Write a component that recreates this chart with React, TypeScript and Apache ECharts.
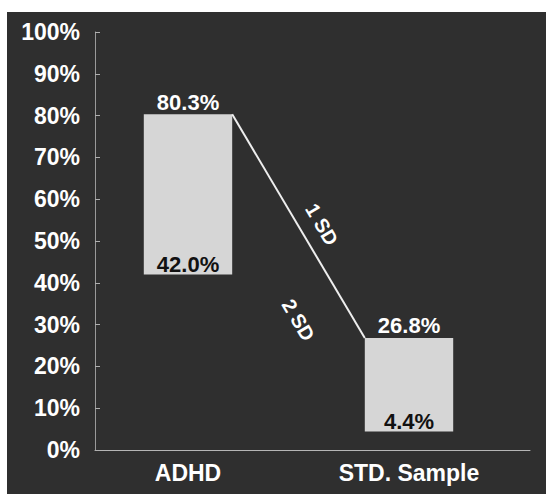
import React, { useEffect, useRef } from 'react';
import * as echarts from 'echarts';

const categories = ['ADHD', 'STD. Sample'];
const lowValues = [42.0, 4.4];
const highValues = [80.3, 26.8];
const lineLabels = ['1 SD', '2 SD'];
const yMin = 0;
const yMax = 100;
const yInterval = 10;

const FONT = '"Liberation Sans", Arial, Helvetica, sans-serif';

export default function App() {
  const ref = useRef<HTMLDivElement>(null);

  useEffect(() => {
    if (!ref.current) return;
    const chart = echarts.init(ref.current, null, { renderer: 'svg' });
    const half = 0.2;

    const barData = categories.map((_, i) => [i, lowValues[i], highValues[i]]);
    const connectorData = [[0 + half, highValues[0], 1 - half, highValues[1]]];
    const labelPlacement = [
      { t: 0.54, d: 21 },
      { t: 0.81, d: -48 },
    ];

    chart.setOption({
      animation: false,
      backgroundColor: '#2f2f2f',
      grid: { left: 88, right: 16, top: 20, bottom: 44 },
      xAxis: {
        type: 'value',
        min: -0.4208,
        max: 1.5475,
        splitLine: { show: false },
        axisLine: { show: true, onZero: false, lineStyle: { color: '#b5b5b5', width: 1 } },
        axisTick: { show: false },
        axisLabel: {
          customValues: [0, 1],
          formatter: (v: number) => categories[Math.round(v)] ?? '',
          color: '#ffffff',
          fontWeight: 'bold',
          fontSize: 23,
          fontFamily: FONT,
          margin: 11,
        },
      },
      yAxis: {
        type: 'value',
        min: yMin,
        max: yMax,
        interval: yInterval,
        splitLine: { show: false },
        axisLine: { show: true, onZero: false, lineStyle: { color: '#9a9a9a', width: 1 } },
        axisTick: { show: true, inside: true, length: 5, lineStyle: { color: '#b0b0b0' } },
        axisLabel: {
          formatter: '{value}%',
          color: '#ffffff',
          fontWeight: 'bold',
          fontSize: 23,
          fontFamily: FONT,
          margin: 15,
        },
      },
      series: [
        {
          type: 'custom',
          name: 'range',
          encode: { x: 0, y: [1, 2] },
          data: barData,
          renderItem: (params: any, api: any) => {
            const x = api.value(0);
            const lo = api.value(1);
            const hi = api.value(2);
            const tl = api.coord([x - half, hi]);
            const br = api.coord([x + half, lo]);
            const mid = (tl[0] + br[0]) / 2;
            return {
              type: 'group',
              children: [
                {
                  type: 'rect',
                  shape: { x: tl[0], y: tl[1], width: br[0] - tl[0], height: br[1] - tl[1] },
                  style: { fill: '#d6d6d6' },
                },
                {
                  type: 'text',
                  x: mid,
                  y: tl[1] - 1,
                  style: {
                    text: hi.toFixed(1) + '%',
                    fill: '#ffffff',
                    fontSize: 22,
                    fontWeight: 'bold',
                    fontFamily: FONT,
                    align: 'center',
                    verticalAlign: 'bottom',
                  },
                },
                {
                  type: 'text',
                  x: mid,
                  y: br[1] + 1,
                  style: {
                    text: lo.toFixed(1) + '%',
                    fill: '#111111',
                    fontSize: 22,
                    fontWeight: 'bold',
                    fontFamily: FONT,
                    align: 'center',
                    verticalAlign: 'bottom',
                  },
                },
              ],
            };
          },
        },
        {
          type: 'custom',
          name: 'connector',
          encode: { x: [0, 2], y: [1, 3] },
          data: connectorData,
          z: 3,
          renderItem: (params: any, api: any) => {
            const p0 = api.coord([api.value(0), api.value(1)]);
            const p1 = api.coord([api.value(2), api.value(3)]);
            const dx = p1[0] - p0[0];
            const dy = p1[1] - p0[1];
            const len = Math.hypot(dx, dy);
            const ux = dx / len;
            const uy = dy / len;
            const nx = uy;
            const ny = -ux;
            const ang = -Math.atan2(dy, dx);
            const texts = lineLabels.map((label, i) => {
              const { t, d } = labelPlacement[i];
              return {
                type: 'text',
                x: p0[0] + dx * t + nx * d,
                y: p0[1] + dy * t + ny * d,
                rotation: ang,
                style: {
                  text: label,
                  fill: '#ffffff',
                  fontSize: 20,
                  fontWeight: 'bold',
                  fontFamily: FONT,
                  align: 'center',
                  verticalAlign: 'middle',
                },
              };
            });
            return {
              type: 'group',
              children: [
                {
                  type: 'line',
                  shape: { x1: p0[0], y1: p0[1], x2: p1[0], y2: p1[1] },
                  style: { stroke: '#eeeeee', lineWidth: 2 },
                },
                ...texts,
              ],
            };
          },
        },
      ],
    });

    return () => {
      chart.dispose();
    };
  }, []);

  return (
    <div style={{ position: 'fixed', left: 0, top: 0, width: 546, height: 494, background: '#ffffff' }}>
      <div ref={ref} style={{ position: 'absolute', left: 7, top: 12, width: 539, height: 482 }} />
    </div>
  );
}
